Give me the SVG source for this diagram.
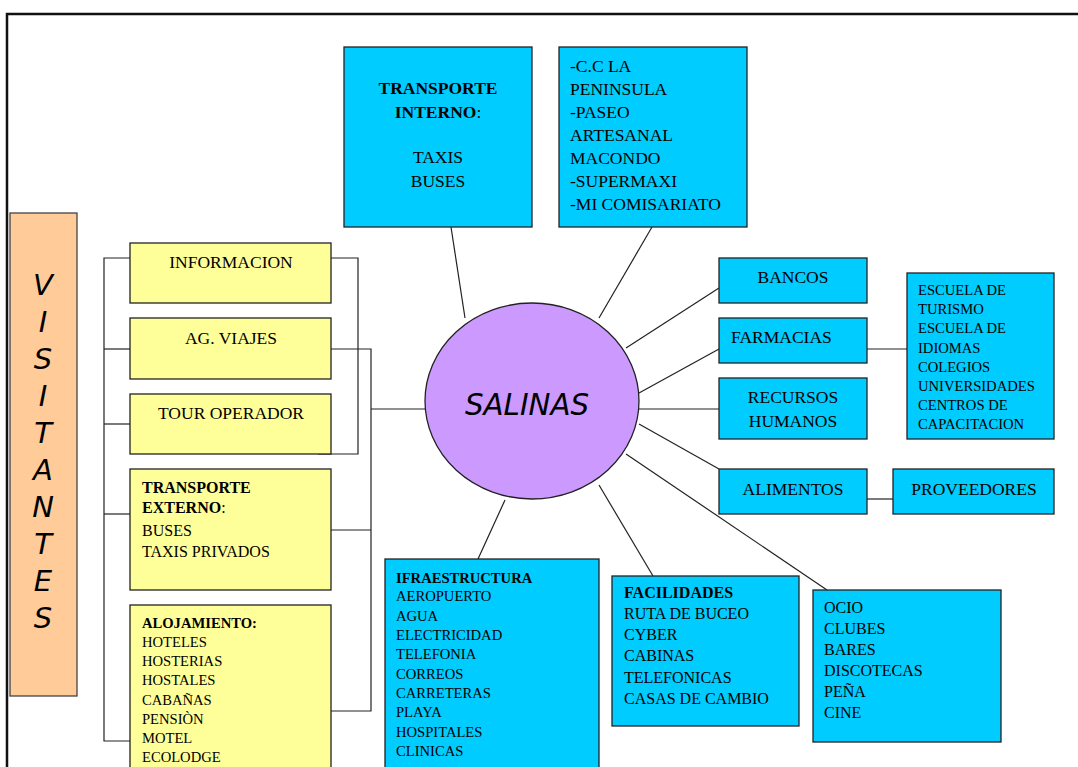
<svg xmlns="http://www.w3.org/2000/svg" width="1078" height="767" viewBox="0 0 1078 767">
<style>
  .frame{fill:none;stroke:#111;stroke-width:2.5}
  .cy{fill:#00CCFF;stroke:#222;stroke-width:1.3}
  .ye{fill:#FFFF99;stroke:#222;stroke-width:1.3}
  .pe{fill:#FFCC99;stroke:#444;stroke-width:1.3}
  .el{fill:#CC99FF;stroke:#222;stroke-width:1.3}
  .ln{fill:none;stroke:#222;stroke-width:1.2}
  text{font-family:"Liberation Serif","Times New Roman",serif;fill:#000}
  .s17{font-size:17.5px}
  .s16{font-size:16px}
  .s14{font-size:14.6px}
  .b{font-weight:bold}
  .c{text-anchor:middle}
  text.hand{font-family:"DejaVu Sans",sans-serif;font-style:italic;fill:#000}
</style>
<rect width="1078" height="767" fill="#fff"/>
<rect class="frame" x="7" y="14" width="1090" height="780"/>

<g id="connectors">
  <line class="ln" x1="451" y1="227" x2="465" y2="318"/>
  <line class="ln" x1="652" y1="227" x2="599" y2="318"/>
  <line class="ln" x1="626" y1="348" x2="719" y2="288"/>
  <line class="ln" x1="639" y1="393" x2="719" y2="349"/>
  <line class="ln" x1="639" y1="409" x2="719" y2="409"/>
  <line class="ln" x1="639" y1="424" x2="719" y2="469"/>
  <line class="ln" x1="626" y1="454" x2="827" y2="590"/>
  <line class="ln" x1="599" y1="485" x2="653" y2="576"/>
  <line class="ln" x1="505" y1="500" x2="478" y2="559"/>
  <line class="ln" x1="867" y1="349" x2="907" y2="349"/>
  <line class="ln" x1="867" y1="499" x2="893" y2="499"/>
  <polyline class="ln" points="130,258 104,258 104,741 130,741"/>
  <line class="ln" x1="104" y1="349" x2="130" y2="349"/>
  <line class="ln" x1="104" y1="424" x2="130" y2="424"/>
  <line class="ln" x1="104" y1="514" x2="130" y2="514"/>
  <polyline class="ln" points="331,258 358,258 358,454 318,454"/>
  <polyline class="ln" points="331,349 371,349 371,711 331,711"/>
  <line class="ln" x1="331" y1="530" x2="371" y2="530"/>
  <line class="ln" x1="371" y1="409" x2="425" y2="409"/>
</g>

<g id="visitantes">
  <rect class="pe" x="10" y="213" width="67" height="483"/>
  <g font-size="29" text-anchor="middle">
    <text class="hand" x="43" y="295">V</text>
    <text class="hand" x="43" y="332">I</text>
    <text class="hand" x="43" y="369">S</text>
    <text class="hand" x="43" y="406">I</text>
    <text class="hand" x="43" y="443">T</text>
    <text class="hand" x="43" y="480">A</text>
    <text class="hand" x="43" y="517">N</text>
    <text class="hand" x="43" y="554">T</text>
    <text class="hand" x="43" y="591">E</text>
    <text class="hand" x="43" y="628">S</text>
  </g>
</g>

<g id="informacion">
  <rect class="ye" x="130" y="243" width="201" height="60"/>
  <text class="s17 c" x="231" y="268">INFORMACION</text>
</g>
<g id="ag-viajes">
  <rect class="ye" x="130" y="318" width="201" height="61"/>
  <text class="s17 c" x="231" y="344">AG. VIAJES</text>
</g>
<g id="tour-operador">
  <rect class="ye" x="130" y="394" width="201" height="60"/>
  <text class="s17 c" x="231" y="419">TOUR OPERADOR</text>
</g>
<g id="transporte-externo">
  <rect class="ye" x="130" y="469" width="201" height="121"/>
  <text class="s16" x="142" y="493"><tspan class="b">TRANSPORTE</tspan></text>
  <text class="s16" x="142" y="513"><tspan class="b">EXTERNO</tspan>:</text>
  <text class="s16" x="142" y="536">BUSES</text>
  <text class="s16" x="142" y="557">TAXIS PRIVADOS</text>
</g>
<g id="alojamiento">
  <rect class="ye" x="130" y="605" width="201" height="180"/>
  <text class="s14 b" x="142" y="628">ALOJAMIENTO:</text>
  <text class="s14" x="142" y="647">HOTELES</text>
  <text class="s14" x="142" y="666">HOSTERIAS</text>
  <text class="s14" x="142" y="685">HOSTALES</text>
  <text class="s14" x="142" y="705">CABAÑAS</text>
  <text class="s14" x="142" y="724">PENSIÒN</text>
  <text class="s14" x="142" y="743">MOTEL</text>
  <text class="s14" x="142" y="762">ECOLODGE</text>
</g>

<g id="transporte-interno">
  <rect class="cy" x="344" y="47" width="188" height="180"/>
  <text class="s17 c b" x="438" y="94">TRANSPORTE</text>
  <text class="s17 c" x="438" y="118"><tspan class="b">INTERNO</tspan>:</text>
  <text class="s17 c" x="438" y="163">TAXIS</text>
  <text class="s17 c" x="438" y="187">BUSES</text>
</g>
<g id="comercio">
  <rect class="cy" x="559" y="47" width="188" height="180"/>
  <text class="s17" x="570" y="72">-C.C LA</text>
  <text class="s17" x="570" y="95">PENINSULA</text>
  <text class="s17" x="570" y="118">-PASEO</text>
  <text class="s17" x="570" y="141">ARTESANAL</text>
  <text class="s17" x="570" y="164">MACONDO</text>
  <text class="s17" x="570" y="187">-SUPERMAXI</text>
  <text class="s17" x="570" y="210">-MI COMISARIATO</text>
</g>

<g id="salinas">
  <ellipse class="el" cx="532" cy="401" rx="107" ry="98"/>
  <text class="hand c" x="527" y="415" font-size="31" textLength="124" lengthAdjust="spacingAndGlyphs">SALINAS</text>
</g>

<g id="bancos">
  <rect class="cy" x="719" y="258" width="148" height="45"/>
  <text class="s17 c" x="793" y="283">BANCOS</text>
</g>
<g id="farmacias">
  <rect class="cy" x="719" y="318" width="148" height="45"/>
  <text class="s17" x="731" y="343">FARMACIAS</text>
</g>
<g id="recursos-humanos">
  <rect class="cy" x="719" y="378" width="148" height="61"/>
  <text class="s17 c" x="793" y="403">RECURSOS</text>
  <text class="s17 c" x="793" y="427">HUMANOS</text>
</g>
<g id="alimentos">
  <rect class="cy" x="719" y="469" width="148" height="45"/>
  <text class="s17 c" x="793" y="495">ALIMENTOS</text>
</g>
<g id="educacion">
  <rect class="cy" x="907" y="273" width="147" height="166"/>
  <text class="s14" x="918" y="295">ESCUELA DE</text>
  <text class="s14" x="918" y="314">TURISMO</text>
  <text class="s14" x="918" y="333">ESCUELA DE</text>
  <text class="s14" x="918" y="353">IDIOMAS</text>
  <text class="s14" x="918" y="372">COLEGIOS</text>
  <text class="s14" x="918" y="391">UNIVERSIDADES</text>
  <text class="s14" x="918" y="410">CENTROS DE</text>
  <text class="s14" x="918" y="429">CAPACITACION</text>
</g>
<g id="proveedores">
  <rect class="cy" x="893" y="469" width="161" height="45"/>
  <text class="s17 c" x="974" y="495">PROVEEDORES</text>
</g>

<g id="infraestructura">
  <rect class="cy" x="385" y="559" width="214" height="230"/>
  <text class="s14 b" x="396" y="583">IFRAESTRUCTURA</text>
  <text class="s14" x="396" y="601">AEROPUERTO</text>
  <text class="s14" x="396" y="621">AGUA</text>
  <text class="s14" x="396" y="640">ELECTRICIDAD</text>
  <text class="s14" x="396" y="659">TELEFONIA</text>
  <text class="s14" x="396" y="679">CORREOS</text>
  <text class="s14" x="396" y="698">CARRETERAS</text>
  <text class="s14" x="396" y="717">PLAYA</text>
  <text class="s14" x="396" y="737">HOSPITALES</text>
  <text class="s14" x="396" y="756">CLINICAS</text>
</g>
<g id="facilidades">
  <rect class="cy" x="612" y="576" width="187" height="150"/>
  <text class="s16 b" x="624" y="598">FACILIDADES</text>
  <text class="s16" x="624" y="619">RUTA DE BUCEO</text>
  <text class="s16" x="624" y="640">CYBER</text>
  <text class="s16" x="624" y="661">CABINAS</text>
  <text class="s16" x="624" y="683">TELEFONICAS</text>
  <text class="s16" x="624" y="704">CASAS DE CAMBIO</text>
</g>
<g id="ocio">
  <rect class="cy" x="813" y="590" width="188" height="152"/>
  <text class="s16" x="824" y="613">OCIO</text>
  <text class="s16" x="824" y="634">CLUBES</text>
  <text class="s16" x="824" y="655">BARES</text>
  <text class="s16" x="824" y="676">DISCOTECAS</text>
  <text class="s16" x="824" y="697">PEÑA</text>
  <text class="s16" x="824" y="718">CINE</text>
</g>
</svg>
